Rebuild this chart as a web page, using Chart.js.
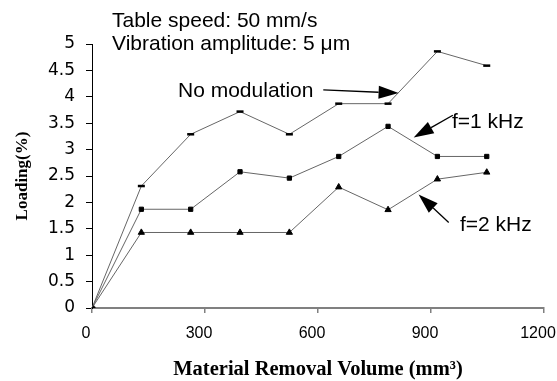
<!DOCTYPE html>
<html><head><meta charset="utf-8">
<script src="https://cdn.jsdelivr.net/npm/chart.js@4.4.1/dist/chart.umd.min.js"></script>
<style>html,body{margin:0;padding:0;background:#fff;overflow:hidden}#wrap{width:557px;height:381px;position:relative}</style>
</head><body><div id="wrap"><canvas id="c" width="557" height="381"></canvas></div>
<script>
// ---- data ----
const removalVolume = [0, 131, 262, 393, 524, 655, 786, 917, 1048];
const noModulation  = [0, 2.31, 3.29, 3.72, 3.29, 3.87, 3.87, 4.86, 4.59];
const f1kHz         = [0, 1.87, 1.87, 2.58, 2.46, 2.87, 3.44, 2.87, 2.87];
const f2kHz         = [0, 1.43, 1.43, 1.43, 1.43, 2.29, 1.86, 2.44, 2.57];
const xTickValues = [0, 300, 600, 900, 1200];
const yTickValues = [0, 0.5, 1, 1.5, 2, 2.5, 3, 3.5, 4, 4.5, 5];
const seriesNames = ['No modulation', 'f=1 kHz', 'f=2 kHz'];
const noteLines = ['Table speed: 50 mm/s', 'Vibration amplitude: 5 \u03bcm'];
const xTitle = 'Material Removal Volume (mm\u00b3)';
const yTitle = 'Loading(%)';

const pts = arr => removalVolume.map((x, i) => ({x, y: arr[i]}));
const lineColor = '#666666';

const annotate = {
  id: 'annotate',
  afterDraw(chart) {
    const ctx = chart.ctx;
    const xs = chart.scales.x, ys = chart.scales.y;
    const P = (x, y) => [xs.getPixelForValue(x), ys.getPixelForValue(y)];
    ctx.save();
    ctx.fillStyle = '#000';
    ctx.textBaseline = 'middle';
    ctx.textAlign = 'left';
    ctx.font = '21px "Liberation Sans", Arial, sans-serif';
    ctx.fillText(noteLines[0], 112, 21);
    ctx.fillText(noteLines[1], 112, 44);
    ctx.fillText(seriesNames[0], 178, 91);
    ctx.fillText(seriesNames[1], 452, 122);
    ctx.fillText(seriesNames[2], 460, 225);
    function arrow(a, b) {
      const [x1, y1] = P(a[0], a[1]);
      const [x2, y2] = P(b[0], b[1]);
      const ang = Math.atan2(y2 - y1, x2 - x1);
      const hl = 20, hw = 6.5;
      const bx = x2 - Math.cos(ang) * hl, by = y2 - Math.sin(ang) * hl;
      ctx.strokeStyle = '#000';
      ctx.lineWidth = 1.3;
      ctx.beginPath(); ctx.moveTo(x1, y1); ctx.lineTo(bx, by); ctx.stroke();
      ctx.beginPath();
      ctx.moveTo(x2, y2);
      ctx.lineTo(bx + Math.sin(ang) * hw, by - Math.cos(ang) * hw);
      ctx.lineTo(bx - Math.sin(ang) * hw, by + Math.cos(ang) * hw);
      ctx.closePath(); ctx.fill();
    }
    arrow([614, 4.13], [814, 4.07]);
    arrow([958, 3.65], [854, 3.23]);
    arrow([947, 1.62], [867, 2.15]);
    ctx.restore();
  }
};

new Chart(document.getElementById('c'), {
  type: 'line',
  data: {
    datasets: [
      {label: seriesNames[0], data: pts(noModulation), borderColor: lineColor, borderWidth: 1,
       pointStyle: 'line', pointRadius: 3.5, pointBorderWidth: 2.5, pointBorderColor: '#000', pointBackgroundColor: '#000'},
      {label: seriesNames[1], data: pts(f1kHz), borderColor: lineColor, borderWidth: 1,
       pointStyle: 'rect', pointRadius: 3, pointBorderWidth: 1, pointBorderColor: '#000', pointBackgroundColor: '#000'},
      {label: seriesNames[2], data: pts(f2kHz), borderColor: lineColor, borderWidth: 1,
       pointStyle: 'triangle', pointRadius: 3.6, pointBorderWidth: 1, pointBorderColor: '#000', pointBackgroundColor: '#000'}
    ]
  },
  options: {
    responsive: false,
    animation: false,
    layout: {padding: {left: 0, right: 13, top: 44, bottom: 0}},
    plugins: {legend: {display: false}, tooltip: {enabled: false}},
    elements: {line: {tension: 0}},
    scales: {
      x: {
        type: 'linear', min: 0, max: 1200,
        afterBuildTicks: s => { s.ticks = xTickValues.map(v => ({value: v})); },
        afterFit: s => { s.height = 73; s.paddingLeft = 0; s.paddingRight = 0; },
        grid: {drawOnChartArea: false, drawTicks: true, tickLength: 5, color: '#808080', lineWidth: 1.5},
        border: {display: true, color: '#808080', width: 2},
        ticks: {color: '#000', font: {family: '"Liberation Sans", Arial, sans-serif', size: 16}, padding: 11, labelOffset: -6, maxRotation: 0, autoSkip: false, callback: v => String(v)},
        title: {display: true, text: xTitle, color: '#000', font: {family: '"Liberation Serif", "Times New Roman", serif', size: 20.5, weight: 'bold'}, padding: {top: 0, bottom: -1}}
      },
      y: {
        min: 0, max: 5,
        afterBuildTicks: s => { s.ticks = yTickValues.map(v => ({value: v})); },
        afterFit: s => { s.width = 92; s.paddingTop = 0; s.paddingBottom = 0; },
        grid: {drawOnChartArea: false, drawTicks: true, tickLength: 6, color: '#000', lineWidth: 1},
        border: {display: true, color: '#000', width: 1},
        ticks: {color: '#000', font: {family: '"DejaVu Sans", sans-serif', size: 17}, padding: 11, callback: v => String(v)},
        title: {display: true, text: yTitle, color: '#000', font: {family: '"Liberation Serif", "Times New Roman", serif', size: 17, weight: 'bold'}, padding: {top: 12, bottom: 0}}
      }
    }
  },
  plugins: [annotate]
});
</script>
</body></html>
